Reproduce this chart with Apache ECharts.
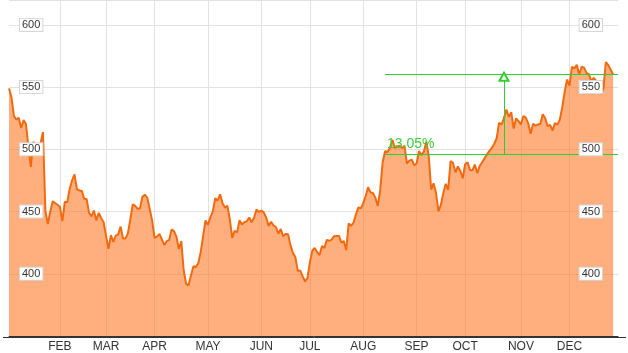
<!DOCTYPE html>
<html><head><meta charset="utf-8">
<script src="https://cdn.jsdelivr.net/npm/echarts@6/dist/echarts.min.js"></script>
<style>html,body{margin:0;padding:0;background:#fff}#c{width:628px;height:353px}</style>
</head><body><div id="c"></div>
<script>
// Trading days (2013) per month
const monthNames = ['JAN','FEB','MAR','APR','MAY','JUN','JUL','AUG','SEP','OCT','NOV','DEC'];
const daysJan = [2,3,4,7,8,9,10,11,14,15,16,17,18,22,23,24,25,28,29,30,31];
const daysFeb = [1,4,5,6,7,8,11,12,13,14,15,19,20,21,22,25,26,27,28];
const daysMar = [1,4,5,6,7,8,11,12,13,14,15,18,19,20,21,22,25,26,27,28];
const daysApr = [1,2,3,4,5,8,9,10,11,12,15,16,17,18,19,22,23,24,25,26,29,30];
const daysMay = [1,2,3,6,7,8,9,10,13,14,15,16,17,20,21,22,23,24,28,29,30,31];
const daysJun = [3,4,5,6,7,10,11,12,13,14,17,18,19,20,21,24,25,26,27,28];
const daysJul = [1,2,3,5,8,9,10,11,12,15,16,17,18,19,22,23,24,25,26,29,30,31];
const daysAug = [1,2,5,6,7,8,9,12,13,14,15,16,19,20,21,22,23,26,27,28,29,30];
const daysSep = [3,4,5,6,9,10,11,12,13,16,17,18,19,20,23,24,25,26,27,30];
const daysOct = [1,2,3,4,7,8,9,10,11,14,15,16,17,18,21,22,23,24,25,28,29,30,31];
const daysNov = [1,4,5,6,7,8,11,12,13,14,15,18,19,20,21,22,25,26,27,29];
const daysDec = [2,3,4,5,6,9,10,11,12,13,16,17,18,19,20,23,24,26,27,30,31];

// Closing prices per month
const closeJan = [549.0,542.1,527.0,523.9,525.3,517.1,523.5,520.3,501.8,485.9,506.1,502.7,500.0,504.8,514.0,450.5,439.9,449.8,458.3,456.8,455.5];
const closeFeb = [453.6,442.3,457.8,457.4,468.2,475.0,479.9,467.9,467.0,466.6,460.2,460.0,448.9,446.1,450.8,442.8,449.0,444.6,441.4];
const closeMar = [430.5,420.1,431.1,425.7,430.6,431.7,437.9,428.4,428.4,432.5,443.7,455.7,454.5,452.1,452.7,461.9,463.6,461.1,452.1,442.7];
const closeApr = [428.9,429.8,432.0,427.7,423.2,426.2,427.0,435.7,434.3,429.8,419.9,426.2,402.8,392.1,390.5,398.7,406.1,405.5,408.4,417.2,430.1,442.8];
const closeMay = [439.3,445.5,450.0,460.7,458.7,463.8,456.8,453.0,454.7,443.9,428.9,434.6,433.3,442.9,439.7,441.4,442.1,445.2,441.4,445.0,451.6,449.7];
const closeJun = [450.7,449.3,445.1,438.5,441.8,438.9,437.6,432.2,436.0,430.1,432.0,431.8,423.0,416.8,413.5,402.5,402.6,398.1,393.8,396.5];
const closeJul = [409.2,418.5,420.8,417.4,415.1,422.4,420.7,427.3,426.5,427.4,430.2,430.3,430.4,425.0,426.3,419.0,440.5,438.5,441.0,447.8,453.3,452.5];
const closeAug = [456.7,462.5,469.5,465.3,465.0,461.0,454.5,467.4,489.6,498.5,497.9,501.0,507.7,501.1,502.4,503.0,501.0,503.0,488.6,490.9,491.7,487.2];
const closeSep = [488.6,498.7,495.3,498.2,506.2,494.6,467.7,472.7,464.9,450.1,455.3,464.7,472.3,467.4,490.6,489.1,481.5,486.2,482.8,476.8];
const closeOct = [488.0,489.6,483.4,483.0,487.8,480.9,486.6,489.6,492.8,496.0,498.7,501.1,504.5,508.9,521.4,519.9,525.0,531.9,526.0,529.9,516.7,524.9,522.7];
const closeNov = [520.0,526.8,525.5,520.9,512.5,520.6,519.1,520.0,520.6,528.2,525.0,518.6,519.6,515.0,521.1,519.8,523.7,533.4,546.0,556.1];
const closeDec = [551.2,566.3,565.0,567.9,560.0,566.4,565.6,561.4,560.5,554.4,557.5,555.0,550.8,544.5,549.0,570.1,567.7,563.9,560.1];

const yTicks = [400,450,500,550,600];
// Measured change annotation
const measureLow = 496.0, measureHigh = 560.73;
const measureStart = '2013-08-14', measureEnd = '2013-12-31', measureMark = '2013-10-23';
const measureText = '13.05%';

const dayLists = [daysJan,daysFeb,daysMar,daysApr,daysMay,daysJun,daysJul,daysAug,daysSep,daysOct,daysNov,daysDec];
const closeLists = [closeJan,closeFeb,closeMar,closeApr,closeMay,closeJun,closeJul,closeAug,closeSep,closeOct,closeNov,closeDec];
const pad = n => (n < 10 ? '0' : '') + n;
const categories = [], monthStart = {};
dayLists.forEach((ds, m) => ds.forEach((d, i) => {
  if (i === 0 && m > 0) monthStart[categories.length] = monthNames[m];
  categories.push('2013-' + pad(m + 1) + '-' + pad(d));
}));
const values = [].concat(...closeLists);

const font = "'Liberation Sans Narrow','Arial Narrow','Liberation Sans',Arial,sans-serif";
const labelBox = {
  inside: true, color: '#333', fontSize: 11, fontFamily: font,
  backgroundColor: '#fff', borderColor: '#d6d6d6', borderWidth: 1, padding: [1, 2, 0, 2],
  showMinLabel: false, showMaxLabel: false,
  formatter: v => (yTicks.indexOf(v) >= 0 ? String(v) : '')
};
const yBase = { type: 'value', min: 350, max: 620, interval: 50, axisLine: {show: false}, axisTick: {show: false} };

const chart = echarts.init(document.getElementById('c'), null, {renderer: 'canvas'});
const green = '#2fcf2f';
chart.setOption({
  animation: false,
  grid: {left: 9, right: 10, top: 0, bottom: 16, containLabel: false},
  xAxis: {
    type: 'category', data: categories, boundaryGap: false,
    axisLine: {show: true, lineStyle: {color: '#333', width: 1}},
    axisTick: {show: false},
    axisLabel: {
      interval: (i) => monthStart[i] !== undefined,
      formatter: (v, i) => monthStart[i] || '',
      color: '#333', fontSize: 12, fontFamily: font, margin: 5
    },
    splitLine: {show: true, interval: (i) => monthStart[i] !== undefined, lineStyle: {color: '#e2e2e2', width: 1}}
  },
  yAxis: [
    Object.assign({}, yBase, {position: 'left', z: 0, axisLabel: {show: false}, splitLine: {show: true, lineStyle: {color: '#e2e2e2', width: 1}}}),
    Object.assign({}, yBase, {position: 'left', z: 10, splitLine: {show: false}, axisLabel: Object.assign({}, labelBox, {margin: 11})}),
    Object.assign({}, yBase, {position: 'right', z: 10, splitLine: {show: false}, axisLabel: Object.assign({}, labelBox, {margin: 16})})
  ],
  series: [{
    type: 'line', data: values, yAxisIndex: 0, showSymbol: false, symbol: 'none',
    lineStyle: {color: '#f26a10', width: 2},
    areaStyle: {color: '#ff7a26', opacity: 0.6},
    z: 2,
    markLine: {
      silent: true, animation: false, symbol: ['none', 'none'],
      lineStyle: {color: green, width: 1, type: 'solid'},
      label: {show: false},
      data: [
        [{coord: [measureStart, measureLow], label: {show: true, position: 'insideStartTop', formatter: measureText, color: '#3ccf3c', fontSize: 14, fontFamily: "'Liberation Sans',Arial,sans-serif", distance: [2, 3]}},
         {coord: [measureEnd, measureLow]}],
        [{coord: [measureStart, measureHigh]}, {coord: [measureEnd, measureHigh]}],
        [{coord: [measureMark, measureLow], symbol: 'none'}, {coord: [measureMark, measureHigh], symbol: 'emptyTriangle', symbolSize: [9, 8], symbolOffset: [0, 3]}]
      ]
    }
  }],
  graphic: [{type: 'line', shape: {x1: 3, y1: 337.5, x2: 626, y2: 337.5}, style: {stroke: '#333', lineWidth: 1}, z: 5, silent: true}]
});
</script></body></html>
